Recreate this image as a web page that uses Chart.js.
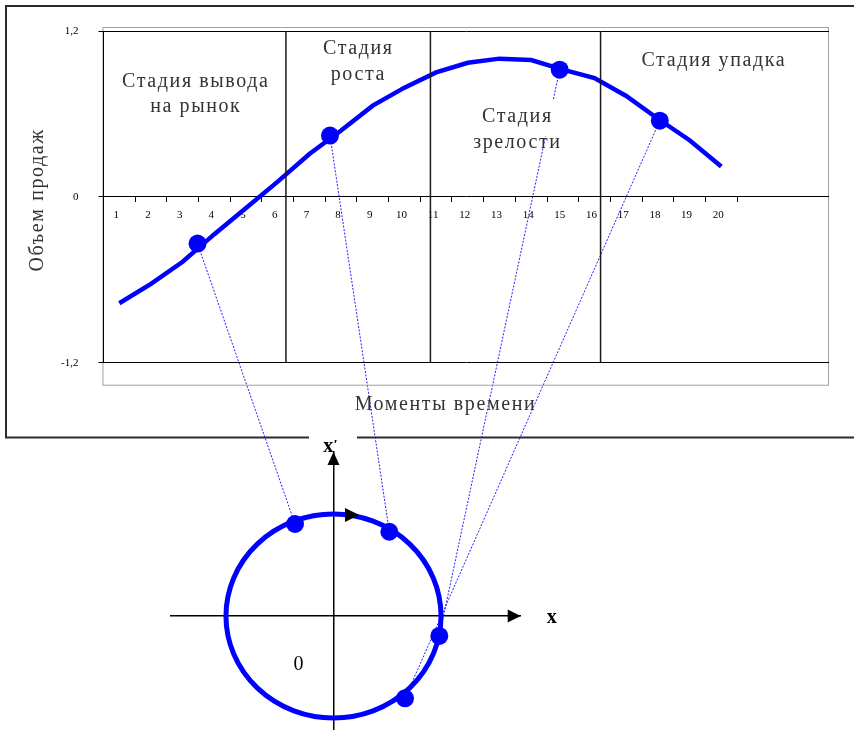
<!DOCTYPE html>
<html>
<head>
<meta charset="utf-8">
<script src="https://cdn.jsdelivr.net/npm/chart.js@4.4.1/dist/chart.umd.min.js"></script>
<style>
  body { margin: 0; background: #fff; }
  #page { position: relative; width: 854px; height: 730px; overflow: hidden; }
  #page canvas { position: absolute; left: 0; }
  #links { top: 0; }
  #sales { top: 0; }
  #phase { top: 440px; }
</style>
</head>
<body>
<div id="page">
  <canvas id="links" width="854" height="730"></canvas>
  <canvas id="sales" width="854" height="440"></canvas>
  <canvas id="phase" width="854" height="290"></canvas>
</div>
<script>
// moments of time (x) and sales volume (y)
const moments = [1, 2, 3, 4, 5, 6, 7, 8, 9, 10, 11, 12, 13, 14, 15, 16, 17, 18, 19, 20];
const sales = [-0.77, -0.63, -0.47, -0.27, -0.08, 0.11, 0.31, 0.48, 0.66, 0.79,
               0.90, 0.97, 1.00, 0.99, 0.92, 0.86, 0.73, 0.565, 0.41, 0.22];
const yTicks = [-1.2, 0, 1.2];

// marked states on the curve and the matching points on the cycle
const markX = [3.47, 7.65, 14.9, 18.06];
const markY = [-0.338, 0.443, 0.92, 0.551];
const cycleU = [-0.358, 0.519, 0.984, 0.665];
const cycleV = [0.902, 0.826, -0.196, -0.807];

// stage borders and captions (x in moments, y = first line baseline)
const stageBounds = [6.26, 10.82, 16.19];
const stageTitles = [["Стадия вывода", "на рынок"], ["Стадия", "роста"], ["Стадия", "зрелости"], ["Стадия упадка"]];
const stageNoteX = [3.39, 8.52, 13.54, 19.74];
const stageNoteY = [0.796, 1.03, 0.54, 0.945];

const BLUE = "#0000ff";
Chart.defaults.font.family = '"Liberation Serif", "Times New Roman", serif';

const salesDecor = {
   id: "salesDecor",
   beforeDraw(chart) {
      const { ctx, chartArea: a } = chart;
      ctx.save();
      ctx.strokeStyle = "#a0a0a0";
      ctx.lineWidth = 1;
      ctx.strokeRect(a.left - 0.5, a.top - 3.5, a.right - a.left, a.bottom - a.top + 26);
      ctx.restore();
   },
   afterDatasetsDraw(chart) {
      const { ctx, chartArea: a, scales: { x, y } } = chart;
      ctx.save();
      ctx.strokeStyle = "#1a1a1a";
      ctx.lineWidth = 1.5;
      stageBounds.forEach((v) => {
         const px = x.getPixelForValue(v);
         ctx.beginPath();
         ctx.moveTo(px, y.getPixelForValue(1.2));
         ctx.lineTo(px, y.getPixelForValue(-1.2));
         ctx.stroke();
      });

      ctx.font = '20px "Liberation Serif"';
      ctx.letterSpacing = "1.6px";
      ctx.textAlign = "center";
      ctx.textBaseline = "alphabetic";
      stageTitles.forEach((lines, i) => {
         const cx = x.getPixelForValue(stageNoteX[i]);
         const by = y.getPixelForValue(stageNoteY[i]);
         const w = Math.max(...lines.map((t) => ctx.measureText(t).width));
         ctx.fillStyle = "#fff";
         ctx.fillRect(cx - w / 2, by - 22, w, 36);
         ctx.fillStyle = "#333";
         lines.forEach((t, k) => ctx.fillText(t, cx + 0.8, by + k * 25.5));
      });

      // axis titles
      ctx.fillText("Моменты времени", a.left + 342, a.bottom + 47);
      ctx.translate(a.left - 60, (a.top + a.bottom) / 2 + 3);
      ctx.rotate(-Math.PI / 2);
      ctx.fillText("Объем продаж", 0, 0);
      ctx.restore();
   },
};

const salesChart = new Chart(document.getElementById("sales"), {
   type: "line",
   data: {
      datasets: [
         {
            type: "scatter",
            data: markX.map((v, i) => ({ x: v, y: markY[i] })),
            backgroundColor: BLUE,
            borderWidth: 0,
            pointRadius: 9,
            order: 0,
         },
         {
            data: moments.map((m, i) => ({ x: m, y: sales[i] })),
            borderColor: BLUE,
            borderWidth: 4.5,
            pointRadius: 0,
            tension: 0,
            fill: false,
            order: 1,
         },
      ],
   },
   options: {
      responsive: false,
      animation: false,
      events: [],
      layout: { autoPadding: false, padding: { left: 0, right: 25, top: 31, bottom: 77.3 } },
      plugins: { legend: { display: false }, tooltip: { enabled: false } },
      scales: {
         x: {
            type: "linear",
            min: 0.5,
            max: 23.4,
            position: { y: 0 },
            afterBuildTicks: (s) => { s.ticks = moments.map((v) => ({ value: v })); },
            ticks: {
               font: { size: 11 },
               color: "#000",
               padding: 7,
               labelOffset: -3,
               autoSkip: false,
               maxRotation: 0,
               callback: (v) => String(v),
            },
            grid: { display: true, drawOnChartArea: false, offset: true, tickLength: 5, color: "#000" },
            border: { display: false },
         },
         y: {
            min: -1.2,
            max: 1.2,
            afterBuildTicks: (s) => { s.ticks = yTicks.map((v) => ({ value: v })); },
            afterFit: (s) => { s.width = 103.45; },
            ticks: {
               font: { size: 11 },
               color: "#000",
               padding: 20,
               callback: (v) => String(v).replace(".", ","),
            },
            grid: { color: "#000", tickLength: 5 },
            border: { color: "#000" },
         },
      },
   },
   plugins: [salesDecor],
});

const phaseDecor = {
   id: "phaseDecor",
   beforeDatasetsDraw(chart) {
      const { ctx, chartArea: a, scales: { x, y } } = chart;
      const ox = x.getPixelForValue(0);
      const oy = y.getPixelForValue(0);
      const rx = x.getPixelForValue(1) - ox;
      const ry = oy - y.getPixelForValue(1);
      ctx.save();
      ctx.fillStyle = "#000";
      ctx.beginPath();
      ctx.moveTo(a.right, oy);
      ctx.lineTo(a.right - 13, oy - 6.5);
      ctx.lineTo(a.right - 13, oy + 6.5);
      ctx.closePath();
      ctx.fill();
      ctx.beginPath();
      ctx.moveTo(ox, a.top);
      ctx.lineTo(ox - 6, a.top + 13);
      ctx.lineTo(ox + 6, a.top + 13);
      ctx.closePath();
      ctx.fill();

      ctx.strokeStyle = BLUE;
      ctx.lineWidth = 5;
      ctx.beginPath();
      ctx.ellipse(ox, oy, rx, ry, 0, 0, Math.PI * 2);
      ctx.stroke();

      // direction of motion on the cycle
      const ty = y.getPixelForValue(1) + 1;
      const b = x.getPixelForValue(0.107);
      const t = x.getPixelForValue(0.24);
      ctx.beginPath();
      ctx.moveTo(t, ty);
      ctx.lineTo(b, ty - 7);
      ctx.lineTo(b, ty + 7);
      ctx.closePath();
      ctx.fill();

      ctx.textAlign = "center";
      ctx.textBaseline = "alphabetic";
      ctx.font = 'bold 20px "Liberation Serif"';
      ctx.fillText("x", x.getPixelForValue(2.03), y.getPixelForValue(-0.072));
      ctx.fillText("x′", x.getPixelForValue(-0.023), y.getPixelForValue(1.611));
      ctx.font = '20px "Liberation Serif"';
      ctx.fillText("0", x.getPixelForValue(-0.326), y.getPixelForValue(-0.529));
      ctx.restore();
   },
};

const phaseChart = new Chart(document.getElementById("phase"), {
   type: "scatter",
   data: {
      datasets: [{
         data: cycleU.map((u, i) => ({ x: u, y: cycleV[i] })),
         backgroundColor: BLUE,
         borderWidth: 0,
         pointRadius: 9,
      }],
   },
   options: {
      responsive: false,
      animation: false,
      events: [],
      layout: { autoPadding: false, padding: { left: 170.7, right: 333.3, top: 12, bottom: 0 } },
      plugins: { legend: { display: false }, tooltip: { enabled: false } },
      scales: {
         x: {
            type: "linear", min: -1.514, max: 1.741, position: { y: 0 },
            grid: { display: false, drawTicks: false }, ticks: { display: false },
            border: { color: "#000", width: 1.5 },
         },
         y: {
            type: "linear", min: -1.118, max: 1.608, position: { x: 0 },
            grid: { display: false, drawTicks: false }, ticks: { display: false },
            border: { color: "#000", width: 1.5 },
         },
      },
   },
   plugins: [phaseDecor],
});

function drawLinks() {
   const ctx = document.getElementById("links").getContext("2d");
   ctx.strokeStyle = "#2b2b2b";
   ctx.lineWidth = 2;
   ctx.beginPath();
   ctx.moveTo(854, 6);
   ctx.lineTo(6, 6);
   ctx.lineTo(6, 437.5);
   ctx.lineTo(309, 437.5);
   ctx.moveTo(357, 437.5);
   ctx.lineTo(854, 437.5);
   ctx.stroke();

   const dy = document.getElementById("phase").offsetTop;
   const up = salesChart.getDatasetMeta(0).data;
   const down = phaseChart.getDatasetMeta(0).data;
   ctx.strokeStyle = "#1f1fff";
   ctx.lineWidth = 1;
   ctx.setLineDash([2, 1.5]);
   ctx.beginPath();
   up.forEach((p, i) => {
      ctx.moveTo(p.x, p.y);
      ctx.lineTo(down[i].x, down[i].y + dy);
   });
   ctx.stroke();
}

drawLinks();
</script>
</body>
</html>
